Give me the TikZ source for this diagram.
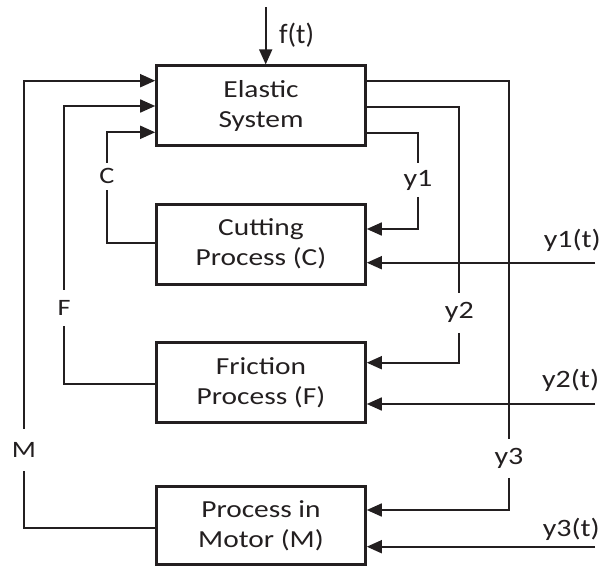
\documentclass[tikz,border=0pt]{standalone}
\usepackage{fontspec}
\setmainfont{Carlito}
\usetikzlibrary{arrows.meta}
\definecolor{ink}{RGB}{35,31,32}
\newcommand\hstr[1]{\scalebox{1.2}[1]{#1}}
\begin{document}
\begin{tikzpicture}[x=1pt,y=-1pt,line join=miter,
  box/.style={draw=ink, line width=2.6pt, minimum width=209pt, minimum height=80pt,
    inner sep=0pt, align=center, text=ink, font=\fontsize{24.5}{30}\selectfont},
  conn/.style={draw=ink, line width=1.7pt},
  arr/.style={conn, -{Triangle[length=15pt,width=13pt]}},
  lab/.style={text=ink, font=\fontsize{23.5}{28}\selectfont, inner xsep=2pt},
  ylab/.style={text=ink, font=\fontsize{25}{28}\selectfont, inner xsep=2pt}]
\useasboundingbox (0,0) rectangle (614,566);
% boxes
\node[box] (es) at (261,105.7) {\hstr{Elastic}\\\hstr{System}};
\node[box] (cp) at (261,244.2) {\hstr{Cutting}\\\hstr{Process (C)}};
\node[box] (fp) at (261,382.5) {\hstr{Friction}\\\hstr{Process (F)}};
\node[box, minimum height=78pt] (mp) at (261,525.7) {\hstr{Process in}\\\hstr{Motor (M)}};
% input f(t)
\coordinate (ft) at (265.7,7);
\draw[arr] (ft) -- (es.north -| ft);
\node[text=ink, font=\fontsize{28}{30}\selectfont, anchor=base west, inner sep=0pt] (ftl) at (279,43.3) {f(t)};
% feedback labels
\node[lab, inner ysep=5.6pt] (Cl) at (107,176) {\hstr{C}};
\node[lab, inner ysep=10.5pt] (Fl) at (64,308) {\hstr{F}};
\node[lab, inner ysep=13.5pt] (Ml) at (24,450) {\hstr{M}};
\node[ylab, inner ysep=6.5pt] (y1l) at (418,180) {\hstr{y1}};
\node[ylab, inner ysep=9.7pt] (y2l) at (459.3,312.8) {\hstr{y2}};
\node[ylab, inner ysep=9pt] (y3l) at (509,458.5) {\hstr{y3}};
% feedback to elastic system
\draw[conn] (cp.west |- 0,242.7) -| (Cl);
\draw[arr] (Cl) |- (es.west |- 0,132.3);
\draw[conn] (fp.west |- 0,384.3) -| (Fl);
\draw[arr] (Fl) |- (es.west |- 0,106);
\draw[conn] (mp.west |- 0,528.3) -| (Ml);
\draw[arr] (Ml) |- (es.west |- 0,80.7);
% outputs of elastic system
\draw[conn] (es.east |- 0,133.3) -| (y1l);
\draw[arr] (y1l) |- (cp.east |- 0,229);
\draw[conn] (es.east |- 0,106.7) -| (y2l);
\draw[arr] (y2l) |- (fp.east |- 0,362.7);
\draw[conn] (es.east |- 0,80.7) -| (y3l);
\draw[arr] (y3l) |- (mp.east |- 0,510);
% external inputs
\coordinate (y1t) at (595,262.7);
\coordinate (y2t) at (595,404);
\coordinate (y3t) at (595,546.7);
\draw[arr] (y1t) -- (cp.east |- y1t);
\draw[arr] (y2t) -- (fp.east |- y2t);
\draw[arr] (y3t) -- (mp.east |- y3t);
\node[ylab, anchor=base east, inner sep=0pt] (y1tl) at (601,247.3) {\hstr{y1(t)}};
\node[ylab, anchor=base east, inner sep=0pt] (y2tl) at (599.3,387.3) {\hstr{y2(t)}};
\node[ylab, anchor=base east, inner sep=0pt] (y3tl) at (600,536) {\hstr{y3(t)}};
\end{tikzpicture}
\end{document}
